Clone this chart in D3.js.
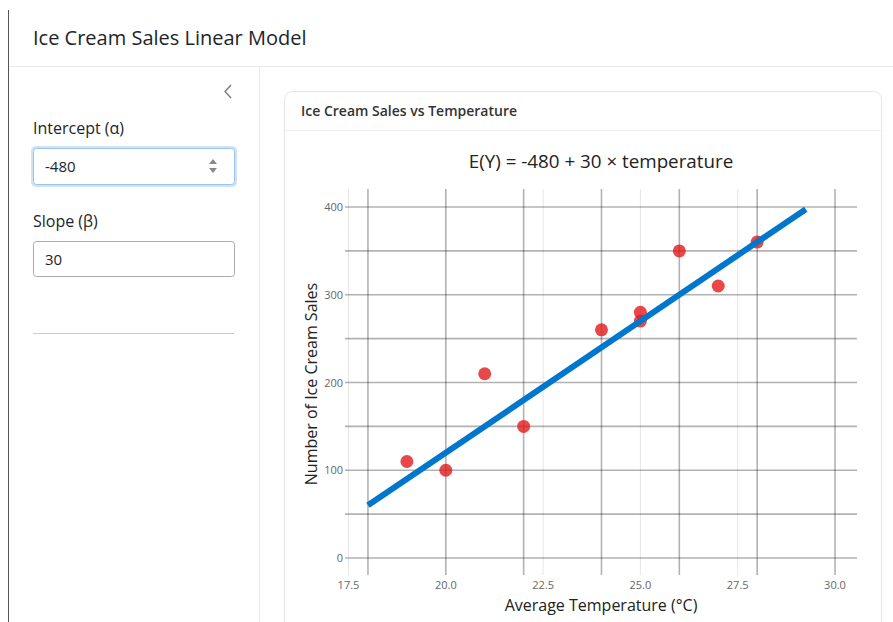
<!DOCTYPE html>
<html lang="en">
<head>
<meta charset="UTF-8" />
<title>Ice Cream Sales Linear Model</title>
<script src="https://cdn.jsdelivr.net/npm/d3@7/dist/d3.min.js"></script>
<style>
  body { margin: 0; background: #fff; overflow: hidden; }
  svg { display: block; font-family: "Open Sans", sans-serif; }
</style>
</head>
<body>
<svg id="page" width="893" height="622"></svg>
<script>
// data
const temperature = [19, 20, 21, 22, 24, 25, 25, 26, 27, 28];
const sales = [110, 100, 210, 150, 260, 280, 270, 350, 310, 360];
const intercept = -480;
const slope = 30;
const lineRange = [18, 29.25];
const xTicks = [17.5, 20, 22.5, 25, 27.5, 30];
const yTicks = [0, 100, 200, 300, 400];
const xGridMajor = [18, 20, 22, 24, 26, 28, 30];
const xGridMinor = [17.5, 22.5, 25, 27.5];
const yGrid = [0, 50, 100, 150, 200, 250, 300, 350, 400];

const svg = d3.select('#page');

// ---- page chrome ----
svg.append('line').attr('x1', 8.5).attr('x2', 8.5).attr('y1', 10).attr('y2', 622)
  .attr('stroke', '#555').attr('stroke-width', 1);
svg.append('text').attr('x', 33).attr('y', 45).attr('font-size', 20)
  .attr('fill', '#212529').text('Ice Cream Sales Linear Model');
svg.append('line').attr('x1', 9).attr('x2', 893).attr('y1', 66.5).attr('y2', 66.5)
  .attr('stroke', '#eaeaea');
svg.append('line').attr('x1', 259.5).attr('x2', 259.5).attr('y1', 67).attr('y2', 622)
  .attr('stroke', '#eaeaea');
svg.append('path').attr('d', 'M231,85 L225,91.5 L231,98')
  .attr('fill', 'none').attr('stroke', '#777').attr('stroke-width', 1.3);

// sidebar inputs
const side = svg.append('g');
side.append('text').attr('x', 33).attr('y', 134).attr('font-size', 16)
  .attr('fill', '#212529').text('Intercept (α)');
side.append('rect').attr('x', 31).attr('y', 146).attr('width', 206).attr('height', 41)
  .attr('rx', 5).attr('fill', '#cfe2f8');
side.append('rect').attr('x', 33.5).attr('y', 148.5).attr('width', 201).attr('height', 36)
  .attr('rx', 3).attr('fill', '#fff').attr('stroke', '#9cc3ec');
side.append('text').attr('x', 45).attr('y', 172).attr('font-size', 15)
  .attr('fill', '#212529').text(String(intercept));
side.append('path').attr('d', 'M209,164 L213,159 L217,164 Z').attr('fill', '#888');
side.append('path').attr('d', 'M209,168 L213,173 L217,168 Z').attr('fill', '#888');
side.append('text').attr('x', 33).attr('y', 227).attr('font-size', 16)
  .attr('fill', '#212529').text('Slope (β)');
side.append('rect').attr('x', 33.5).attr('y', 241.5).attr('width', 201).attr('height', 35)
  .attr('rx', 3).attr('fill', '#fff').attr('stroke', '#aaa');
side.append('text').attr('x', 45).attr('y', 265).attr('font-size', 15)
  .attr('fill', '#212529').text(String(slope));
side.append('line').attr('x1', 33).attr('x2', 234).attr('y1', 333.5).attr('y2', 333.5)
  .attr('stroke', '#ccc');

// card
svg.append('rect').attr('x', 284.5).attr('y', 91.5).attr('width', 597).attr('height', 560)
  .attr('rx', 8).attr('fill', '#fff').attr('stroke', '#e6e6e6');
svg.append('line').attr('x1', 285).attr('x2', 881).attr('y1', 130.5).attr('y2', 130.5)
  .attr('stroke', '#eeeeee');
svg.append('text').attr('x', 301).attr('y', 116).attr('font-size', 14)
  .attr('font-weight', 600).attr('fill', '#333').text('Ice Cream Sales vs Temperature');

// ---- chart ----
const plotLeft = 345, plotRight = 857, plotTop = 189, plotBottom = 575;
const x = d3.scaleLinear().domain([17.5, 30]).range([348.5, 835]);
const y = d3.scaleLinear().domain([0, 400]).range([558, 207]);

const chart = svg.append('g');

chart.selectAll('.gx-minor').data(xGridMinor).enter().append('line')
  .attr('x1', d => x(d)).attr('x2', d => x(d)).attr('y1', plotTop).attr('y2', plotBottom)
  .attr('stroke', '#e6e6e6').attr('stroke-width', 1);
chart.selectAll('.gy').data(yGrid).enter().append('line')
  .attr('x1', plotLeft).attr('x2', plotRight).attr('y1', d => y(d)).attr('y2', d => y(d))
  .attr('stroke', '#000').attr('stroke-opacity', 0.3).attr('stroke-width', 1.6);
chart.selectAll('.gx').data(xGridMajor).enter().append('line')
  .attr('x1', d => x(d)).attr('x2', d => x(d)).attr('y1', plotTop).attr('y2', plotBottom)
  .attr('stroke', '#000').attr('stroke-opacity', 0.3).attr('stroke-width', 1.6);

// tick labels
chart.selectAll('.xt').data(xTicks).enter().append('text')
  .attr('x', d => x(d)).attr('y', 589).attr('text-anchor', 'middle')
  .attr('font-size', 11).attr('fill', '#666').text(d => d3.format('.1f')(d));
chart.selectAll('.yt').data(yTicks).enter().append('text')
  .attr('x', 343).attr('y', d => y(d) + 4).attr('text-anchor', 'end')
  .attr('font-size', 11).attr('fill', '#666').text(d => d);

// points
chart.selectAll('.pt').data(temperature.map((t, i) => [t, sales[i]])).enter()
  .append('circle')
  .attr('cx', d => x(d[0])).attr('cy', d => y(d[1])).attr('r', 6.5)
  .attr('fill', '#e41a1c').attr('fill-opacity', 0.8);

// model line
const line = d3.line().x(d => x(d)).y(d => y(intercept + slope * d));
chart.append('path').datum(lineRange).attr('d', line)
  .attr('fill', 'none').attr('stroke', '#0077cc').attr('stroke-width', 6);

// titles
chart.append('text').attr('x', (plotLeft + plotRight) / 2).attr('y', 168).attr('text-anchor', 'middle')
  .attr('font-size', 18.8).attr('fill', '#222')
  .text(`E(Y) = ${intercept} + ${slope} × temperature`);
chart.append('text').attr('x', (plotLeft + plotRight) / 2).attr('y', 611).attr('text-anchor', 'middle')
  .attr('font-size', 16).attr('fill', '#222').text('Average Temperature (°C)');
chart.append('text')
  .attr('transform', `translate(317,${(plotTop + plotBottom) / 2 + 2}) rotate(-90)`)
  .attr('text-anchor', 'middle').attr('font-size', 16).attr('fill', '#222')
  .text('Number of Ice Cream Sales');
</script>
</body>
</html>
